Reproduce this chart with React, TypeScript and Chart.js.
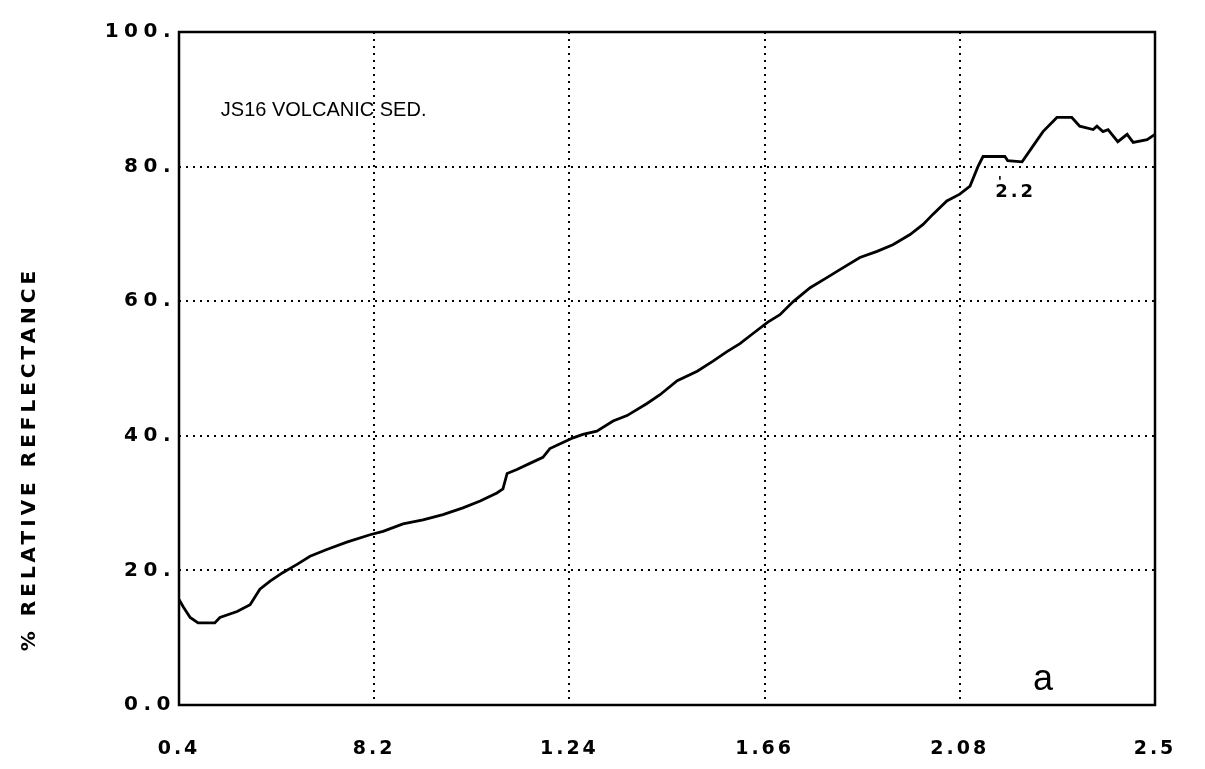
import React, { useEffect, useRef } from "react";
import { Chart, registerables } from "chart.js";

Chart.register(...registerables);

const wavelength = [0.400, 0.409, 0.424, 0.441, 0.477, 0.488, 0.525, 0.553, 0.574, 0.596, 0.624, 0.654, 0.682, 0.718, 0.761, 0.811, 0.839, 0.882, 0.925, 0.968, 1.011, 1.048, 1.084, 1.097, 1.106, 1.127, 1.155, 1.183, 1.198, 1.226, 1.248, 1.269, 1.299, 1.334, 1.364, 1.407, 1.435, 1.472, 1.515, 1.549, 1.579, 1.607, 1.635, 1.667, 1.693, 1.721, 1.758, 1.794, 1.822, 1.865, 1.902, 1.936, 1.973, 2.001, 2.022, 2.052, 2.080, 2.102, 2.119, 2.130, 2.177, 2.183, 2.214, 2.237, 2.259, 2.289, 2.321, 2.338, 2.367, 2.375, 2.388, 2.399, 2.420, 2.440, 2.453, 2.483, 2.500];
const reflectance = [15.7, 14.6, 13.0, 12.2, 12.2, 13.0, 13.9, 14.9, 17.2, 18.4, 19.7, 20.9, 22.1, 23.1, 24.2, 25.3, 25.8, 26.9, 27.5, 28.3, 29.3, 30.3, 31.5, 32.1, 34.4, 35.0, 35.9, 36.8, 38.1, 39.0, 39.7, 40.2, 40.7, 42.2, 43.0, 44.8, 46.1, 48.2, 49.6, 51.1, 52.5, 53.7, 55.2, 56.9, 58.0, 59.9, 62.0, 63.5, 64.7, 66.5, 67.4, 68.4, 69.9, 71.4, 72.9, 74.9, 75.9, 77.1, 80.0, 81.5, 81.5, 80.9, 80.7, 83.0, 85.2, 87.3, 87.3, 86.0, 85.5, 86.0, 85.2, 85.5, 83.7, 84.8, 83.6, 84.0, 84.8];

const xTickValues = [0.4, 0.82, 1.24, 1.66, 2.08, 2.5];
const xTickLabels = ["0.4", "8.2", "1.24", "1.66", "2.08", "2.5"];
const yTickValues = [0, 20, 40, 60, 80, 100];
const yTickLabels = ["0.0", "20.", "40.", "60.", "80.", "100."];

const yTitle = "% RELATIVE REFLECTANCE";
const sampleLabel = "JS16 VOLCANIC SED.";
const featureLabel = "2.2";
const panelLabel = "a";

const BOLD = "'DejaVu Sans', sans-serif";
const REG = "'Liberation Sans', Arial, sans-serif";

const Y_SPACING = "5.5px";
const X_SPACING = "3px";

const spacingPlugin = {
  id: "spacing",
  beforeUpdate(chart: any) {
    chart.ctx.letterSpacing = Y_SPACING;
  },
  beforeLayout(chart: any) {
    chart.ctx.letterSpacing = Y_SPACING;
  },
  beforeDraw(chart: any) {
    chart.ctx.letterSpacing = Y_SPACING;
  },
  afterDatasetsDraw(chart: any) {
    chart.ctx.letterSpacing = X_SPACING;
  },
};

const decorPlugin = {
  id: "decor",
  afterDraw(chart: any) {
    const { ctx, chartArea, scales } = chart;
    const xs = scales.x;
    const ys = scales.y;
    ctx.save();
    // frame
    ctx.strokeStyle = "#000";
    ctx.lineWidth = 2.5;
    ctx.strokeRect(chartArea.left, chartArea.top, chartArea.right - chartArea.left, chartArea.bottom - chartArea.top);

    // y title
    ctx.save();
    ctx.letterSpacing = "4px";
    ctx.fillStyle = "#000";
    ctx.font = `bold 20px ${BOLD}`;
    ctx.translate(30, 459);
    ctx.rotate(-Math.PI / 2);
    ctx.textAlign = "center";
    ctx.textBaseline = "middle";
    ctx.fillText(yTitle, 0, 0);
    ctx.restore();

    // sample label
    ctx.letterSpacing = "0px";
    ctx.fillStyle = "#000";
    ctx.font = `20px ${REG}`;
    ctx.textAlign = "left";
    ctx.textBaseline = "middle";
    ctx.fillText(sampleLabel, xs.getPixelForValue(0.49), ys.getPixelForValue(88.3));

    // feature label
    ctx.letterSpacing = "3px";
    ctx.font = `bold 18px ${BOLD}`;
    ctx.textAlign = "center";
    ctx.fillText(featureLabel, xs.getPixelForValue(2.2), ys.getPixelForValue(76.2));
    ctx.letterSpacing = "0px";
    ctx.font = `bold 14px ${BOLD}`;
    ctx.fillText("'", xs.getPixelForValue(2.166), ys.getPixelForValue(77.6));

    // panel label
    ctx.font = `36px ${REG}`;
    ctx.fillText(panelLabel, xs.getPixelForValue(2.259), ys.getPixelForValue(3.7));
    ctx.restore();
  },
};

export default function App() {
  const ref = useRef<HTMLCanvasElement | null>(null);
  useEffect(() => {
    if (!ref.current) return;
    const chart = new Chart(ref.current, {
      type: "line",
      data: {
        datasets: [
          {
            data: wavelength.map((w, i) => ({ x: w, y: reflectance[i] })),
            borderColor: "#000",
            borderWidth: 2.8,
            pointRadius: 0,
            tension: 0,
            fill: false,
          },
        ],
      },
      options: {
        animation: false,
        responsive: false,
        devicePixelRatio: 1,
        layout: { padding: { left: 0, right: 50, top: 32, bottom: 0 } },
        plugins: { legend: { display: false }, tooltip: { enabled: false }, title: { display: false } },
        scales: {
          x: {
            type: "linear",
            min: 0.4,
            max: 2.5,
            afterBuildTicks: (s: any) => {
              s.ticks = xTickValues.map((v) => ({ value: v }));
            },
            afterFit: (s: any) => {
              s.height = 64;
              s.paddingLeft = 0;
              s.paddingRight = 0;
            },
            ticks: {
              z: 1,
              autoSkip: false,
              maxRotation: 0,
              padding: 33,
              color: "#000",
              font: { family: BOLD, size: 19, weight: "bold" },
              callback: (_v: any, i: number) => xTickLabels[i],
            },
            grid: {
              drawTicks: false,
              lineWidth: 2,
              color: (c: any) => (c.index === 0 || c.index === xTickValues.length - 1 ? "rgba(0,0,0,0)" : "#000"),
            },
            border: { display: false, dash: [2, 5] },
          },
          y: {
            type: "linear",
            min: 0,
            max: 100,
            afterBuildTicks: (s: any) => {
              s.ticks = yTickValues.map((v) => ({ value: v }));
            },
            afterFit: (s: any) => {
              s.width = 179;
              s.paddingTop = 0;
              s.paddingBottom = 0;
            },
            ticks: {
              z: 0,
              padding: 3,
              color: "#000",
              font: { family: BOLD, size: 20, weight: "bold" },
              callback: (_v: any, i: number) => yTickLabels[i],
            },
            grid: {
              drawTicks: false,
              lineWidth: 2,
              color: (c: any) => (c.index === 0 || c.index === yTickValues.length - 1 ? "rgba(0,0,0,0)" : "#000"),
            },
            border: { display: false, dash: [2, 5] },
          },
        },
      },
      plugins: [spacingPlugin, decorPlugin],
    } as any);
    return () => chart.destroy();
  }, []);
  return (
    <div style={{ position: "fixed", left: 0, top: 0, width: 1205, height: 769, background: "#fff" }}>
      <canvas ref={ref} width={1205} height={769} />
    </div>
  );
}
